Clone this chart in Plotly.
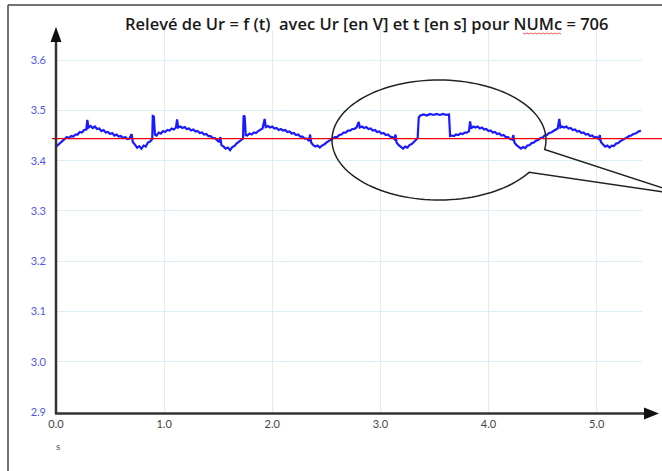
import numpy as np
import plotly.graph_objects as go

# ---------------- data ----------------
t_s = [0.00, 0.02, 0.04, 0.06, 0.08, 0.10, 0.12, 0.14, 0.16, 0.18, 0.20, 0.22, 0.24, 0.26, 0.28, 0.29, 0.30, 0.32, 0.34, 0.36,
       0.38, 0.40, 0.42, 0.44, 0.46, 0.48, 0.50, 0.52, 0.54, 0.56, 0.58, 0.60, 0.62, 0.64, 0.66, 0.68, 0.70, 0.71, 0.73, 0.75,
       0.77, 0.79, 0.81, 0.83, 0.85, 0.87, 0.89, 0.895, 0.905, 0.915, 0.93, 0.95, 0.97, 0.99, 1.01, 1.03, 1.05, 1.07, 1.09, 1.11,
       1.12, 1.13, 1.15, 1.17, 1.19, 1.21, 1.23, 1.25, 1.27, 1.29, 1.31, 1.33, 1.35, 1.37, 1.39, 1.41, 1.43, 1.45, 1.47, 1.49,
       1.51, 1.52, 1.53, 1.55, 1.57, 1.59, 1.61, 1.63, 1.65, 1.67, 1.69, 1.71, 1.73, 1.735, 1.745, 1.755, 1.77, 1.79, 1.81, 1.83,
       1.85, 1.87, 1.89, 1.91, 1.93, 1.94, 1.96, 1.98, 2.00, 2.02, 2.04, 2.06, 2.08, 2.10, 2.12, 2.14, 2.16, 2.18, 2.20, 2.22,
       2.24, 2.26, 2.28, 2.30, 2.32, 2.34, 2.35, 2.36, 2.38, 2.40, 2.42, 2.44, 2.46, 2.48, 2.50, 2.52, 2.54, 2.56, 2.58, 2.60,
       2.62, 2.64, 2.66, 2.68, 2.70, 2.72, 2.74, 2.76, 2.78, 2.80, 2.81, 2.83, 2.85, 2.87, 2.89, 2.91, 2.93, 2.95, 2.97, 2.99,
       3.01, 3.03, 3.05, 3.07, 3.09, 3.11, 3.13, 3.14, 3.15, 3.17, 3.19, 3.21, 3.23, 3.25, 3.27, 3.29, 3.31, 3.33, 3.345, 3.355,
       3.37, 3.40, 3.43, 3.46, 3.49, 3.52, 3.55, 3.58, 3.61, 3.635, 3.645, 3.66, 3.68, 3.70, 3.72, 3.74, 3.76, 3.78, 3.80, 3.82,
       3.83, 3.84, 3.86, 3.88, 3.90, 3.92, 3.94, 3.96, 3.98, 4.00, 4.02, 4.04, 4.06, 4.08, 4.10, 4.12, 4.14, 4.16, 4.18, 4.20,
       4.22, 4.23, 4.24, 4.26, 4.28, 4.30, 4.32, 4.34, 4.36, 4.38, 4.40, 4.42, 4.44, 4.46, 4.48, 4.50, 4.52, 4.54, 4.56, 4.58,
       4.60, 4.62, 4.64, 4.655, 4.665, 4.68, 4.70, 4.72, 4.74, 4.76, 4.78, 4.80, 4.82, 4.84, 4.86, 4.88, 4.90, 4.92, 4.94, 4.96,
       4.98, 5.00, 5.02, 5.03, 5.04, 5.06, 5.08, 5.10, 5.12, 5.14, 5.16, 5.18, 5.20, 5.22, 5.24, 5.26, 5.28, 5.30, 5.32, 5.34,
       5.36, 5.38, 5.40, 5.41]

ur_v = [3.428, 3.432, 3.434, 3.440, 3.443, 3.447, 3.445, 3.449, 3.448, 3.452, 3.452, 3.457, 3.456, 3.461, 3.462, 3.481, 3.466, 3.469, 3.465, 3.468,
        3.463, 3.464, 3.459, 3.461, 3.456, 3.457, 3.453, 3.455, 3.450, 3.452, 3.448, 3.449, 3.445, 3.447, 3.443, 3.444, 3.453, 3.437, 3.432, 3.426,
        3.429, 3.424, 3.430, 3.428, 3.436, 3.438, 3.443, 3.489, 3.488, 3.452, 3.450, 3.456, 3.454, 3.459, 3.457, 3.461, 3.460, 3.464, 3.462, 3.466,
        3.482, 3.466, 3.468, 3.465, 3.467, 3.463, 3.464, 3.460, 3.462, 3.458, 3.459, 3.455, 3.456, 3.452, 3.453, 3.449, 3.449, 3.445, 3.445, 3.440,
        3.437, 3.447, 3.431, 3.428, 3.424, 3.426, 3.421, 3.427, 3.429, 3.434, 3.437, 3.441, 3.444, 3.490, 3.488, 3.451, 3.450, 3.454, 3.452, 3.456,
        3.455, 3.459, 3.461, 3.464, 3.483, 3.467, 3.469, 3.466, 3.468, 3.464, 3.465, 3.461, 3.463, 3.460, 3.461, 3.457, 3.458, 3.454, 3.455, 3.451,
        3.452, 3.448, 3.448, 3.444, 3.444, 3.439, 3.452, 3.436, 3.431, 3.428, 3.430, 3.426, 3.430, 3.432, 3.436, 3.439, 3.442, 3.444, 3.447, 3.447,
        3.451, 3.452, 3.456, 3.456, 3.460, 3.460, 3.463, 3.463, 3.466, 3.477, 3.466, 3.468, 3.465, 3.467, 3.463, 3.464, 3.460, 3.461, 3.457, 3.458,
        3.454, 3.455, 3.451, 3.452, 3.448, 3.447, 3.443, 3.452, 3.436, 3.431, 3.427, 3.424, 3.428, 3.426, 3.431, 3.433, 3.437, 3.441, 3.445, 3.486,
        3.490, 3.492, 3.490, 3.493, 3.491, 3.493, 3.491, 3.493, 3.491, 3.492, 3.449, 3.450, 3.449, 3.452, 3.451, 3.454, 3.453, 3.456, 3.456, 3.459,
        3.478, 3.464, 3.468, 3.466, 3.468, 3.464, 3.466, 3.462, 3.463, 3.459, 3.460, 3.456, 3.457, 3.453, 3.454, 3.450, 3.451, 3.447, 3.447, 3.443,
        3.442, 3.451, 3.436, 3.431, 3.428, 3.424, 3.427, 3.425, 3.430, 3.431, 3.435, 3.436, 3.440, 3.441, 3.445, 3.446, 3.450, 3.451, 3.455, 3.456,
        3.459, 3.461, 3.464, 3.483, 3.466, 3.468, 3.466, 3.468, 3.464, 3.465, 3.461, 3.462, 3.458, 3.459, 3.455, 3.456, 3.452, 3.453, 3.449, 3.450,
        3.446, 3.447, 3.443, 3.451, 3.437, 3.432, 3.428, 3.430, 3.426, 3.430, 3.429, 3.434, 3.435, 3.439, 3.441, 3.444, 3.446, 3.449, 3.450, 3.453,
        3.454, 3.457, 3.458, 3.460]

ref_level = 3.444           # red horizontal reference line
x_ticks = [0, 1, 2, 3, 4, 5]
x_tick_labels = ["0.0", "1.0", "2.0", "3.0", "4.0", "5.0"]
y_ticks = [2.9, 3.0, 3.1, 3.2, 3.3, 3.4, 3.5, 3.6]
y_tick_labels = ["2.9", "3.0", "3.1", "3.2", "3.3", "3.4", "3.5", "3.6"]
title_text = "Relevé de Ur = f (t)&nbsp; avec Ur [en V] et t [en s] pour NUMc = 706"
x_unit = "s"

# ---------------- layout geometry ----------------
W, H = 662, 471
L, R, T, B = 56, 20, 30, 59
PW, PH = W - L - R, H - T - B


def px(x):
    return (x - L) / PW


def py(y):
    return (H - B - y) / PH


fig = go.Figure()
fig.add_trace(go.Scatter(x=t_s, y=ur_v, mode="lines",
                         line=dict(color="#1a1aff", width=2.2), showlegend=False,
                         hoverinfo="skip"))

grid_col = "#dcedf3"
font_family = "Lato, 'Open Sans', sans-serif"
title_family = "'Open Sans', sans-serif"

fig.update_xaxes(range=[0, 5.42], tickvals=x_ticks, ticktext=x_tick_labels,
                 showgrid=True, gridcolor=grid_col, gridwidth=1, zeroline=False,
                 showline=False, ticks="", ticklabelstandoff=4,
                 tickfont=dict(family=font_family, size=11, color="#444"))
fig.update_yaxes(range=[2.9, 3.66], tickvals=y_ticks, ticktext=y_tick_labels,
                 showgrid=True, gridcolor=grid_col, gridwidth=1, zeroline=False,
                 showline=False, ticks="", ticklabelstandoff=9,
                 tickfont=dict(family=font_family, size=11, color="#5555ee"))

shapes = []
# red reference line (extends past the plot to the right edge)
shapes.append(dict(type="line", xref="paper", yref="y", x0=px(52), x1=px(W + 5),
                   y0=ref_level, y1=ref_level, line=dict(color="#e8000b", width=1.2)))
# axes with arrows
ax_col = "#333333"
shapes.append(dict(type="line", xref="paper", yref="paper", x0=px(56), x1=px(56),
                   y0=py(414), y1=py(38), line=dict(color=ax_col, width=2.5)))
shapes.append(dict(type="path", xref="paper", yref="paper", fillcolor="#111", line=dict(width=0),
                   path=f"M {px(50.5)} {py(42)} L {px(56)} {py(27)} L {px(61.5)} {py(42)} Z"))
shapes.append(dict(type="line", xref="paper", yref="paper", x0=px(55), x1=px(648),
                   y0=py(413.5), y1=py(413.5), line=dict(color=ax_col, width=2.5)))
shapes.append(dict(type="path", xref="paper", yref="paper", fillcolor="#111", line=dict(width=0),
                   path=f"M {px(644)} {py(407.5)} L {px(659)} {py(413.5)} L {px(644)} {py(419.5)} Z"))
# outer frame (left and top)
shapes.append(dict(type="line", xref="paper", yref="paper", x0=px(8), x1=px(8),
                   y0=py(5), y1=py(H + 5), line=dict(color="#444", width=1.5)))
shapes.append(dict(type="line", xref="paper", yref="paper", x0=px(8), x1=px(W + 5),
                   y0=py(5), y1=py(5), line=dict(color="#444", width=1.5)))
# oval callout
cx, cy, rx, ry = 439, 140, 107, 60
th = np.linspace(0.57, 2 * np.pi + 0.16, 120)
ex = cx + rx * np.cos(th)
ey = cy + ry * np.sin(th)
pts = [f"{px(a):.5f} {py(b):.5f}" for a, b in zip(ex, ey)]
path = "M " + " L ".join(pts) + f" L {px(684)} {py(195)} Z"
shapes.append(dict(type="path", xref="paper", yref="paper", path=path,
                   line=dict(color="#222", width=1.5), fillcolor="rgba(0,0,0,0)"))
# red wavy spell-check underline under "NUMc"
wx = np.arange(523, 563, 2)
wpts = [f"{px(a):.5f} {py(33 + (1 if i % 2 else 0)):.5f}" for i, a in enumerate(wx)]
shapes.append(dict(type="path", xref="paper", yref="paper", path="M " + " L ".join(wpts),
                   line=dict(color="#e03030", width=0.8)))

annotations = [
    dict(text=title_text, xref="paper", yref="paper", x=px(366), y=py(24),
         xanchor="center", yanchor="middle", showarrow=False,
         font=dict(family=title_family, size=16.5, color="#1a1a1a", weight=600)),
    dict(text=x_unit, xref="paper", yref="paper", x=px(58), y=py(446),
         xanchor="center", yanchor="middle", showarrow=False,
         font=dict(family=font_family, size=10, color="#555")),
]

fig.update_layout(width=W, height=H, margin=dict(l=L, r=R, t=T, b=B),
                  paper_bgcolor="white", plot_bgcolor="white",
                  shapes=shapes, annotations=annotations, showlegend=False)

fig.write_html("out.html", config={"displayModeBar": False},
               post_script="document.body.style.margin='0';document.body.style.overflow='hidden';")
